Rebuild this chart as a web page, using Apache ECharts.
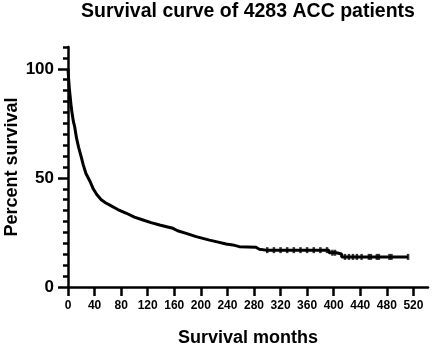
<!DOCTYPE html>
<html><head><meta charset="utf-8">
<script src="https://cdn.jsdelivr.net/npm/echarts@6/dist/echarts.min.js"></script>
<style>html,body{margin:0;padding:0;background:#fff}#c{width:432px;height:346px}</style>
</head><body><div id="c"></div>
<script>
const titleText = 'Survival curve of 4283 ACC patients';
const xName = 'Survival months';
const yName = 'Percent survival';
const xTicks = [0,40,80,120,160,200,240,280,320,360,400,440,480,520];
const yLabels = [0,50,100];
const yMinorTicks = [5,10,15,20,25,30,35,40,45,55,60,65,70,75,80,85,90,95,105,110];
// Kaplan-Meier curve (months, % survival)
const months = [0,1,2,3,5,8,10,13,16,20,23,27,33,38,43,50,57,63,75,88,100,113,125,138,150,158,165,178,193,203,213,223,238,248,258,283,288,298,393,393,404,404,412,412,512];
const survival = [100,95,91,88,82,76,73.5,68,64,59.5,56,52,48.5,45,42.5,40,38.5,37.5,35.5,33.8,32,30.7,29.5,28.4,27.5,26.9,25.8,24.6,23.1,22.3,21.5,20.8,19.7,19.3,18.5,18.2,17.3,16.9,16.9,15.7,15.7,15.1,15.1,13.8,13.8];
// censor marks
const censorMonths = [300,310,320,330,340,350,360,370,380,390,398,402,417,423,429,435,442,453,456,465,468,484,487,512];
const censorSurvival = [16.9,16.9,16.9,16.9,16.9,16.9,16.9,16.9,16.9,16.9,15.7,15.7,13.8,13.8,13.8,13.8,13.8,13.8,13.8,13.8,13.8,13.8,13.8,13.8];

const font = 'Liberation Sans';
const chart = echarts.init(document.getElementById('c'), null, {renderer:'canvas'});
chart.setOption({
  animation:false,
  grid:{left:68,right:4,top:47,bottom:59,containLabel:false,outerBoundsMode:'none'},
  graphic:[{type:'text',x:248,y:12,style:{text:titleText,textAlign:'center',textVerticalAlign:'middle',font:'bold 19.5px "Liberation Sans"',fill:'#000'}}],
  xAxis:{type:'value',min:0,max:542,
    name:xName,nameLocation:'middle',nameGap:42,nameMoveOverlap:false,
    nameTextStyle:{fontFamily:font,fontWeight:'bold',fontSize:18,color:'#000'},
    axisLine:{show:true,lineStyle:{color:'#000',width:2.5}},
    axisTick:{show:true,length:9,customValues:xTicks,lineStyle:{color:'#000',width:2.5}},
    axisLabel:{customValues:xTicks,margin:13,fontFamily:font,fontWeight:'bold',fontSize:12,color:'#000'},
    splitLine:{show:false}},
  yAxis:[{type:'value',min:0,max:110,
    name:yName,nameLocation:'middle',nameGap:47,nameMoveOverlap:false,
    nameTextStyle:{fontFamily:font,fontWeight:'bold',fontSize:18,color:'#000'},
    axisLine:{show:true,lineStyle:{color:'#000',width:2.5}},
    axisTick:{show:true,length:10,customValues:yLabels,lineStyle:{color:'#000',width:2.5}},
    axisLabel:{customValues:yLabels,margin:14,fontFamily:font,fontWeight:'bold',fontSize:17,color:'#000'},
    splitLine:{show:false}},
   {type:'value',min:0,max:110,position:'left',
    axisLine:{show:false},
    axisTick:{show:true,length:5,customValues:yMinorTicks,lineStyle:{color:'#000',width:2.5}},
    axisLabel:{show:false},splitLine:{show:false}}],
  series:[
    {type:'line',data:months.map((m,i)=>[m,survival[i]]),showSymbol:false,symbol:'none',
     lineStyle:{color:'#000',width:3},clip:false},
    {type:'scatter',data:censorMonths.map((m,i)=>[m,censorSurvival[i]]),symbol:'rect',symbolSize:[2.5,6],
     itemStyle:{color:'#000'}}
  ]
});
</script></body></html>
